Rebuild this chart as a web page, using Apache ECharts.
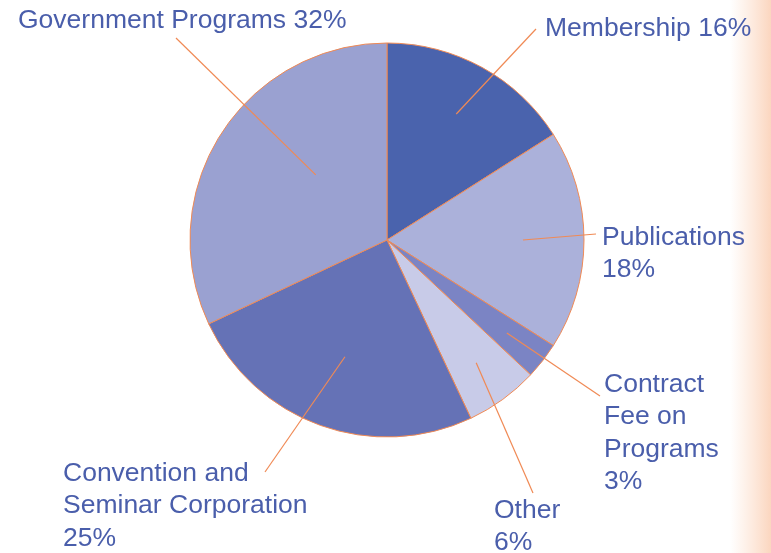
<!DOCTYPE html>
<html>
<head>
<meta charset="utf-8">
<script src="https://cdn.jsdelivr.net/npm/echarts@6/dist/echarts.min.js"></script>
<style>
  html, body { margin: 0; padding: 0; background: #fff; }
  #main { width: 771px; height: 553px; }
</style>
</head>
<body>
<div id="main"></div>
<script>
// data
var names = ['Membership', 'Publications', 'Contract Fee on Programs', 'Other', 'Convention and Seminar Corporation', 'Government Programs'];
var labels = ['Membership 16%', 'Publications\n18%', 'Contract\nFee on\nPrograms\n3%', 'Other\n6%', 'Convention and\nSeminar Corporation\n25%', 'Government Programs 32%'];
var values = [16, 18, 3, 6, 25, 32];

// look
var colors = ['#4a63ad', '#abb1da', '#7b84c4', '#c8cbe8', '#6572b6', '#9aa1d1'];
var orange = '#f08a55';
var cx = 387, cy = 240, R = 197;
// where each label box starts (top-left) and where its leader line ends
var labelPos = [[545, 12], [602, 221], [604, 368], [494, 494], [63, 457], [18, 4]];
var lineEnd = [[536, 29], [596, 234], [600, 396], [533, 493], [265, 472], [176, 38]];
// leader line start inside the slice: fraction of radius, angle offset (deg)
var innerFrac = [0.73, 0.69, 0.77, 0.77, 0.63, 0.49];
var innerOff = [0, 0, 0, 0, 0, 10];

var total = values.reduce(function (a, b) { return a + b; }, 0);
var midAngle = [];
var acc = 0;
values.forEach(function (v) {
  midAngle.push((acc + v / 2) / total * 360);
  acc += v;
});

var pieData = names.map(function (n, i) {
  return { name: n, value: values[i], itemStyle: { color: colors[i] } };
});

var myChart = echarts.init(document.getElementById('main'));
var option = {
  backgroundColor: '#fff',
  animation: false,
  graphic: [{
    type: 'rect',
    shape: { x: 730, y: 0, width: 41, height: 553 },
    style: {
      fill: new echarts.graphic.LinearGradient(0, 0, 1, 0, [
        { offset: 0, color: 'rgba(252,220,200,0)' },
        { offset: 1, color: '#fbd6bf' }
      ])
    },
    z: -1
  }],
  series: [{
    // the slices
    type: 'pie',
    center: [cx, cy],
    radius: R,
    startAngle: 90,
    clockwise: true,
    data: pieData,
    itemStyle: { borderColor: orange, borderWidth: 1 },
    label: { show: false },
    labelLine: { show: false },
    emphasis: { disabled: true },
    z: 2
  }, {
    // same pie, invisible, only for labels and leader lines on top
    type: 'pie',
    center: [cx, cy],
    radius: R,
    startAngle: 90,
    clockwise: true,
    avoidLabelOverlap: false,
    silent: true,
    data: names.map(function (n, i) { return { name: n, value: values[i] }; }),
    itemStyle: { color: 'rgba(0,0,0,0)', borderWidth: 0 },
    label: {
      show: true,
      formatter: function (p) { return labels[p.dataIndex]; },
      color: '#4a5eab',
      fontFamily: 'Liberation Sans, Arial, sans-serif',
      fontSize: 26.5,
      lineHeight: 32.5
    },
    labelLine: {
      show: true,
      lineStyle: { color: orange, width: 1.2 }
    },
    emphasis: { disabled: true },
    z: 5,
    labelLayout: function (params) {
      var i = params.dataIndex;
      var a = (midAngle[i] + innerOff[i]) * Math.PI / 180;
      var r = R * innerFrac[i];
      var start = [cx + r * Math.sin(a), cy - r * Math.cos(a)];
      return {
        x: labelPos[i][0],
        y: labelPos[i][1],
        align: 'left',
        verticalAlign: 'top',
        hideOverlap: false,
        labelLinePoints: [start, lineEnd[i], lineEnd[i]]
      };
    }
  }]
};
myChart.setOption(option);
</script>
</body>
</html>
